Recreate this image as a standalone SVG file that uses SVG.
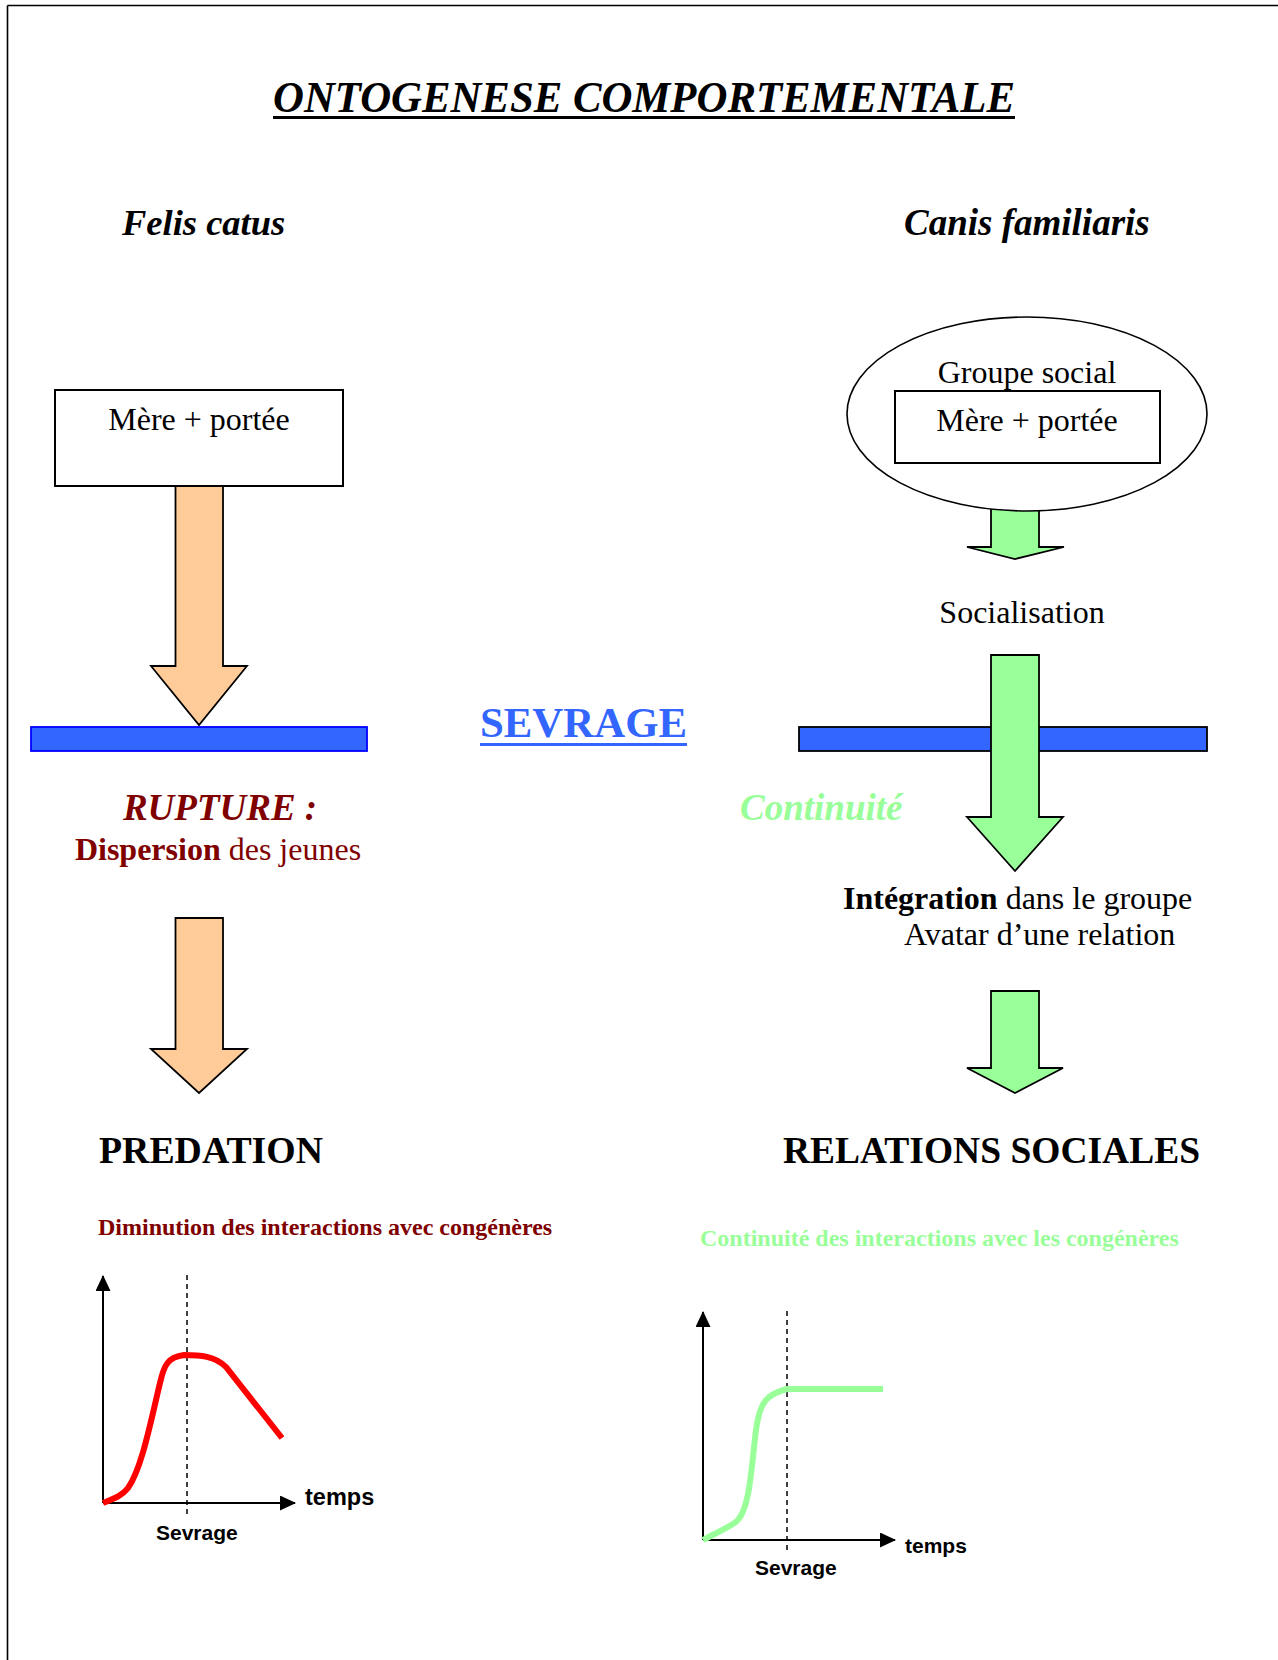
<svg xmlns="http://www.w3.org/2000/svg" width="1278" height="1660" viewBox="0 0 1278 1660">
  <style>
    .serif { font-family: "Liberation Serif", "Times New Roman", serif; }
    .sans { font-family: "Liberation Sans", Arial, sans-serif; font-weight: bold; }
    .box { fill: #FFFFFF; stroke: #000000; stroke-width: 2; }
    .orange { fill: #FFCC99; stroke: #000000; stroke-width: 1.8; stroke-linejoin: miter; }
    .green { fill: #99FF99; stroke: #000000; stroke-width: 1.8; stroke-linejoin: miter; }
    .bar { fill: #3366FF; stroke-width: 1.8; }
    .axis { stroke: #000000; stroke-width: 2; fill: none; }
    .dash { stroke: #000000; stroke-width: 1.5; stroke-dasharray: 5 4; fill: none; }
    .darkred { fill: #800000; }
    .lightgreen { fill: #99FF99; }
  </style>
  <defs>
    <marker id="axisHead" viewBox="0 0 16 15" refX="15" refY="7.5" markerWidth="16" markerHeight="15" markerUnits="userSpaceOnUse" orient="auto">
      <path d="M0,0 L16,7.5 L0,15 Z" fill="#000000"/>
    </marker>
  </defs>

  <!-- page frame (top and left edges) -->
  <g id="frame" fill="none" stroke="#000000" stroke-width="1.6">
    <line x1="7.5" y1="5.5" x2="1278" y2="5.5"/>
    <line x1="7.5" y1="5.5" x2="7.5" y2="1660"/>
  </g>

  <!-- title -->
  <g id="title">
    <text class="serif" x="273" y="112" font-size="44" font-weight="bold" font-style="italic" textLength="742" lengthAdjust="spacingAndGlyphs">ONTOGENESE COMPORTEMENTALE</text>
    <rect x="273" y="116" width="742" height="3" fill="#000000"/>
  </g>

  <g id="felis-label">
    <text class="serif" x="122" y="235" font-size="36.5" font-weight="bold" font-style="italic">Felis catus</text>
  </g>
  <g id="canis-label">
    <text class="serif" x="904" y="235" font-size="37" font-weight="bold" font-style="italic">Canis familiaris</text>
  </g>

  <!-- connectors: block arrows -->
  <g id="connectors">
    <path class="orange" d="M175.5,486 L223,486 L223,666 L247,666 L199,725 L151,666 L175.5,666 Z"/>
    <path class="orange" d="M175.5,918 L223,918 L223,1049 L247,1049 L199,1093 L151,1049 L175.5,1049 Z"/>
    <path class="green" d="M991,500 L1039,500 L1039,547 L1064,547 L1015,559 L967,547 L991,547 Z"/>
    <path class="green" d="M991,991 L1039,991 L1039,1068 L1063,1068 L1015,1093 L967,1068 L991,1068 Z"/>
  </g>

  <!-- cat: mother and litter -->
  <g id="cat-litter">
    <rect class="box" x="55" y="390" width="288" height="96"/>
    <text class="serif" x="199" y="430" font-size="32" text-anchor="middle">Mère + portée</text>
  </g>

  <!-- dog: social group around mother and litter -->
  <g id="dog-group">
    <ellipse cx="1027" cy="414" rx="180" ry="97" fill="#FFFFFF" stroke="#000000" stroke-width="1.6"/>
    <text class="serif" x="1027" y="383" font-size="32" text-anchor="middle">Groupe social</text>
    <rect class="box" x="895" y="391" width="265" height="72" fill="none"/>
    <text class="serif" x="1027" y="431" font-size="32" text-anchor="middle">Mère + portée</text>
  </g>

  <g id="socialisation">
    <text class="serif" x="1022" y="623" font-size="32" text-anchor="middle">Socialisation</text>
  </g>

  <!-- weaning bars -->
  <g id="bar-left">
    <rect class="bar" x="31" y="727" width="336" height="24" stroke="#0000FF"/>
  </g>
  <g id="bar-right">
    <rect class="bar" x="799" y="727" width="408" height="24" stroke="#000000"/>
  </g>
  <g id="arrow-through-bar">
    <path class="green" d="M991,655 L1039,655 L1039,817 L1063,817 L1015,871 L967,817 L991,817 Z"/>
  </g>

  <g id="sevrage">
    <text class="serif" x="480" y="737" font-size="43" font-weight="bold" fill="#3366FF" textLength="207" lengthAdjust="spacingAndGlyphs">SEVRAGE</text>
    <rect x="480" y="743" width="207" height="3" fill="#3366FF"/>
  </g>

  <g id="rupture">
    <text class="serif darkred" x="220" y="820" font-size="37" font-weight="bold" font-style="italic" text-anchor="middle">RUPTURE :</text>
    <text class="serif darkred" x="218" y="860" font-size="32" text-anchor="middle"><tspan font-weight="bold">Dispersion</tspan> des jeunes</text>
  </g>

  <g id="continuite">
    <text class="serif lightgreen" x="740" y="820" font-size="37" font-weight="bold" font-style="italic">Continuité</text>
  </g>

  <g id="integration">
    <text class="serif" x="843" y="909" font-size="32"><tspan font-weight="bold">Intégration</tspan> dans le groupe</text>
    <text class="serif" x="904" y="945" font-size="32">Avatar d’une relation</text>
  </g>

  <g id="predation">
    <text class="serif" x="99" y="1163" font-size="37" font-weight="bold" textLength="224" lengthAdjust="spacingAndGlyphs">PREDATION</text>
  </g>
  <g id="relations-sociales">
    <text class="serif" x="783" y="1163" font-size="37" font-weight="bold" textLength="417" lengthAdjust="spacingAndGlyphs">RELATIONS SOCIALES</text>
  </g>

  <!-- cat: interaction curve -->
  <g id="chart-cat">
    <text class="serif darkred" x="98" y="1235" font-size="24" font-weight="bold">Diminution des interactions avec congénères</text>
    <line class="axis" x1="103" y1="1503" x2="103" y2="1276" marker-end="url(#axisHead)"/>
    <line class="axis" x1="103" y1="1503" x2="295" y2="1503" marker-end="url(#axisHead)"/>
    <line class="dash" x1="187" y1="1275" x2="187" y2="1517"/>
    <path d="M103,1503 C113,1499 122,1496 128,1488 C142,1468 151,1420 160,1383 C164,1365 168,1357 184,1355 C200,1355 215,1356 226,1367 L282,1438" fill="none" stroke="#FF0000" stroke-width="6"/>
    <text class="sans" x="305" y="1505" font-size="23.5">temps</text>
    <text class="sans" x="156" y="1540" font-size="21">Sevrage</text>
  </g>

  <!-- dog: interaction curve -->
  <g id="chart-dog">
    <text class="serif lightgreen" x="700" y="1246" font-size="24" font-weight="bold">Continuité des interactions avec les congénères</text>
    <line class="axis" x1="703" y1="1540" x2="703" y2="1312" marker-end="url(#axisHead)"/>
    <line class="axis" x1="703" y1="1540" x2="895" y2="1540" marker-end="url(#axisHead)"/>
    <line class="dash" x1="787" y1="1311" x2="787" y2="1553"/>
    <path d="M703,1540 C716,1533 730,1527 737,1521 C750,1508 751,1470 756,1430 C760,1400 768,1394 787,1389 L883,1389" fill="none" stroke="#99FF99" stroke-width="6"/>
    <text class="sans" x="905" y="1553" font-size="21">temps</text>
    <text class="sans" x="755" y="1575" font-size="21">Sevrage</text>
  </g>
</svg>
